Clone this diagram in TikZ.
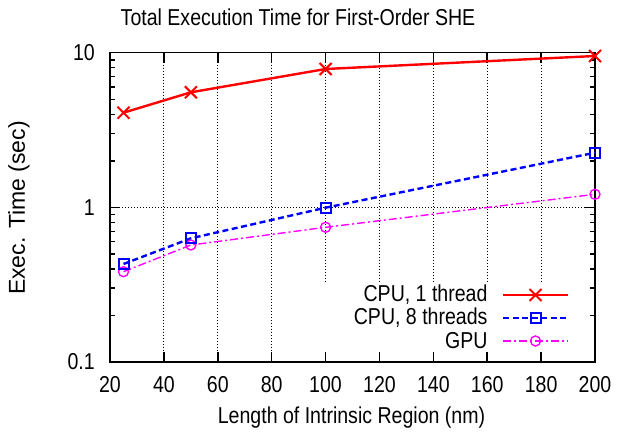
\documentclass[tikz,border=0pt]{standalone}
\usepackage{fontspec}
\setmainfont{Liberation Sans}
\newfontfamily\condfont[FakeStretch=0.85]{Liberation Sans}
\usetikzlibrary{shapes.misc}
\definecolor{cred}{RGB}{255,0,0}
\definecolor{cblue}{RGB}{0,0,255}
\definecolor{cmag}{RGB}{255,0,255}
\tikzset{
  lbl/.style={font=\condfont\fontsize{23}{26}\selectfont, inner sep=0pt},
  border/.style={line width=1.5pt, black},
  gridline/.style={line width=0.8pt, black, dash pattern=on 1pt off 2pt},
  cpuone/.style={line width=2.4pt, cred},
  cpueight/.style={line width=2.4pt, cblue, dash pattern=on 6pt off 3.5pt},
  gpuline/.style={line width=1.4pt, cmag, dash pattern=on 8pt off 3pt on 2pt off 3pt},
  xmark/.style={draw=cred, cross out, line width=2pt, minimum size=10pt, inner sep=0pt},
  smark/.style={draw=cblue, rectangle, line width=2pt, minimum size=10pt, inner sep=0pt},
  omark/.style={draw=cmag, circle, line width=1.4pt, minimum size=10pt, inner sep=0pt},
}
\begin{document}
\begin{tikzpicture}[x=1pt,y=-1pt]
\useasboundingbox[fill=white] (0,0) rectangle (619,436);
% grid
\foreach \xv in {40,60,80} {
  \pgfmathsetmacro\xx{110+(\xv-20)*2.69444}
  \draw[gridline] (\xx,52.7) -- (\xx,362);
}
\foreach \xv in {100,120,140,160,180} {
  \pgfmathsetmacro\xx{110+(\xv-20)*2.69444}
  \draw[gridline] (\xx,52.7) -- (\xx,283);
}
\draw[gridline] (110,207.4) -- (595,207.4);
% ticks
\foreach \xv in {20,40,...,200} {
  \pgfmathsetmacro\xx{110+(\xv-20)*2.69444}
  \draw[border] (\xx,362) -- (\xx,352);
  \draw[border] (\xx,52.7) -- (\xx,62.7);
  \node[lbl] at (\xx,385) {\xv};
}
\foreach \yb in {362,207.4} {
  \foreach \k in {2,...,9} {
    \pgfmathsetmacro\yy{\yb - log10(\k)*154.65}
    \draw[border] (110,\yy) -- (115,\yy);
    \draw[border] (595,\yy) -- (590,\yy);
  }
}
\foreach \yy/\t in {52.7/10, 207.4/1, 362/0.1} {
  \draw[border] (110,\yy) -- (120,\yy);
  \draw[border] (595,\yy) -- (585,\yy);
  \node[lbl, anchor=east] at (95,\yy) {\t};
}
\draw[border] (110,52.7) rectangle (595,362);
% labels
\node[lbl] (title) at (298,17) {Total Execution Time for First-Order SHE};
\node[lbl] (xlab) at (351.5,418) {Length of Intrinsic Region (nm)};
\node[font=\fontsize{23}{26}\selectfont, inner sep=0pt, rotate=90] (ylab) at (19,208) {Exec. Time (sec)};
% data points
\coordinate (a1) at (123.5,112.7);
\coordinate (a2) at (190.9,92.3);
\coordinate (a3) at (325.6,69);
\coordinate (a4) at (595,56);
\coordinate (b1) at (123.5,264);
\coordinate (b2) at (190.9,238.3);
\coordinate (b3) at (325.6,207.7);
\coordinate (b4) at (595,152.7);
\coordinate (c1) at (123.5,271.7);
\coordinate (c2) at (190.9,245);
\coordinate (c3) at (325.6,227.3);
\coordinate (c4) at (595,194.3);
\draw[gpuline] (c1) -- (c2) -- (c3) -- (c4);
\draw[cpueight] (b1) -- (b2) -- (b3) -- (b4);
\draw[cpuone] (a1) -- (a2) -- (a3) -- (a4);
\foreach \i in {1,2,3,4} {
  \node[omark] (mc\i) at (c\i) {};
  \node[smark] (mb\i) at (b\i) {};
  \node[xmark] (ma\i) at (a\i) {};
}
% legend
\node[lbl, anchor=east] (k1) at (487.7,295) {CPU, 1 thread};
\node[lbl, anchor=east] (k2) at (487.7,318) {CPU, 8 threads};
\node[lbl, anchor=east] (k3) at (487.7,341) {GPU};
\coordinate (l1a) at (503,295); \coordinate (l1b) at (567.5,295);
\coordinate (l2a) at (503,318); \coordinate (l2b) at (567.5,318);
\coordinate (l3a) at (503,341); \coordinate (l3b) at (567.5,341);
\draw[cpuone] (l1a) -- (l1b);
\draw[cpueight] (l2a) -- (l2b);
\draw[gpuline] (l3a) -- (l3b);
\node[xmark] (km1) at (535.5,295) {};
\node[smark] (km2) at (535.5,318) {};
\node[omark] (km3) at (535.5,341) {};
\end{tikzpicture}
\end{document}
